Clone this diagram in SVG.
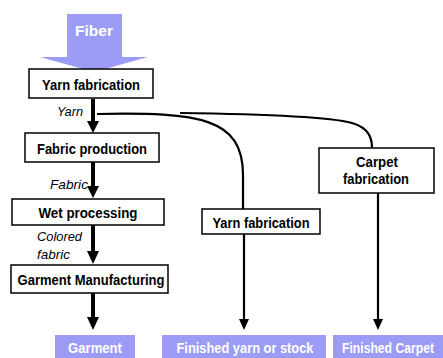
<svg xmlns="http://www.w3.org/2000/svg" width="443" height="358" viewBox="0 0 443 358">
<style>
.box{fill:#fff;stroke:#000;stroke-width:1.5}
.t{font-family:"Liberation Sans",Arial,sans-serif;font-weight:bold;font-size:14px;fill:#000;text-anchor:middle}
.lbl{font-family:"Liberation Sans",Arial,sans-serif;font-style:italic;font-size:13px;fill:#000}
.out{fill:#9c9cf6}
.ot{font-family:"Liberation Sans",Arial,sans-serif;font-weight:bold;font-size:15px;fill:#fff;text-anchor:middle}
.thick{stroke:#000;stroke-width:4;fill:none}
.thin{stroke:#000;stroke-width:2.2;fill:none}
</style>
<g id="fiber">
<path class="out" d="M67,14 H122 V57 H148 L94,72 L40,57 H67 Z"/>
<text class="ot" x="94" y="36" font-size="16" textLength="38" lengthAdjust="spacingAndGlyphs">Fiber</text>
</g>
<g id="connectors">
<path class="thin" d="M97,114 C200,112 243,118 243,175 V209"/>
<path class="thin" d="M180,113 C260,114 330,117 352,123 C369,128 372,138 372,148"/>
<line class="thick" x1="93" y1="99" x2="93" y2="122"/>
<path d="M87,121 H99 L93,133 Z"/>
<line class="thick" x1="93" y1="162" x2="93" y2="187"/>
<path d="M87,186 H99 L93,198 Z"/>
<line class="thick" x1="93" y1="225" x2="93" y2="252"/>
<path d="M87,251 H99 L93,264 Z"/>
<line class="thick" x1="93" y1="293" x2="93" y2="318"/>
<path d="M87,317 H99 L93,330 Z"/>
<line class="thin" x1="244" y1="234" x2="244" y2="320"/>
<path d="M239,319 H249 L244,330 Z"/>
<line class="thin" x1="378" y1="193" x2="378" y2="320"/>
<path d="M373,319 H383 L378,330 Z"/>
</g>
<g id="yarn-fabrication">
<rect class="box" x="29" y="69" width="124" height="29"/>
<text class="t" x="91" y="90" textLength="98" lengthAdjust="spacingAndGlyphs">Yarn fabrication</text>
</g>
<text class="lbl" x="57" y="116" textLength="26" lengthAdjust="spacingAndGlyphs">Yarn</text>
<g id="fabric-production">
<rect class="box" x="25" y="133" width="134" height="29"/>
<text class="t" x="92" y="154" textLength="110" lengthAdjust="spacingAndGlyphs">Fabric production</text>
</g>
<text class="lbl" x="50" y="189" textLength="38" lengthAdjust="spacingAndGlyphs">Fabric</text>
<g id="wet-processing">
<rect class="box" x="12" y="199" width="152" height="26"/>
<text class="t" x="88" y="218" textLength="99" lengthAdjust="spacingAndGlyphs">Wet processing</text>
</g>
<text class="lbl" x="37" y="241" textLength="45" lengthAdjust="spacingAndGlyphs">Colored</text>
<text class="lbl" x="37" y="259" textLength="33" lengthAdjust="spacingAndGlyphs">fabric</text>
<g id="garment-manufacturing">
<rect class="box" x="11" y="265" width="157" height="28"/>
<text class="t" x="91" y="285" textLength="147" lengthAdjust="spacingAndGlyphs">Garment Manufacturing</text>
</g>
<g id="yarn-fabrication-2">
<rect class="box" x="202" y="209" width="118" height="25"/>
<text class="t" x="261" y="228" textLength="97" lengthAdjust="spacingAndGlyphs">Yarn fabrication</text>
</g>
<g id="carpet-fabrication">
<rect class="box" x="319" y="148" width="115" height="45"/>
<text class="t" x="377" y="167" textLength="42" lengthAdjust="spacingAndGlyphs">Carpet</text>
<text class="t" x="376" y="184" textLength="66" lengthAdjust="spacingAndGlyphs">fabrication</text>
</g>
<g id="garment">
<rect class="out" x="55" y="335" width="80" height="23"/>
<text class="ot" x="95" y="353" textLength="54" lengthAdjust="spacingAndGlyphs">Garment</text>
</g>
<g id="finished-yarn">
<rect class="out" x="162" y="335" width="164" height="23"/>
<text class="ot" x="245" y="353" textLength="137" lengthAdjust="spacingAndGlyphs">Finished yarn or stock</text>
</g>
<g id="finished-carpet">
<rect class="out" x="333" y="335" width="110" height="23"/>
<text class="ot" x="388" y="353" font-size="13" textLength="92" lengthAdjust="spacingAndGlyphs">Finished Carpet</text>
</g>
</svg>
